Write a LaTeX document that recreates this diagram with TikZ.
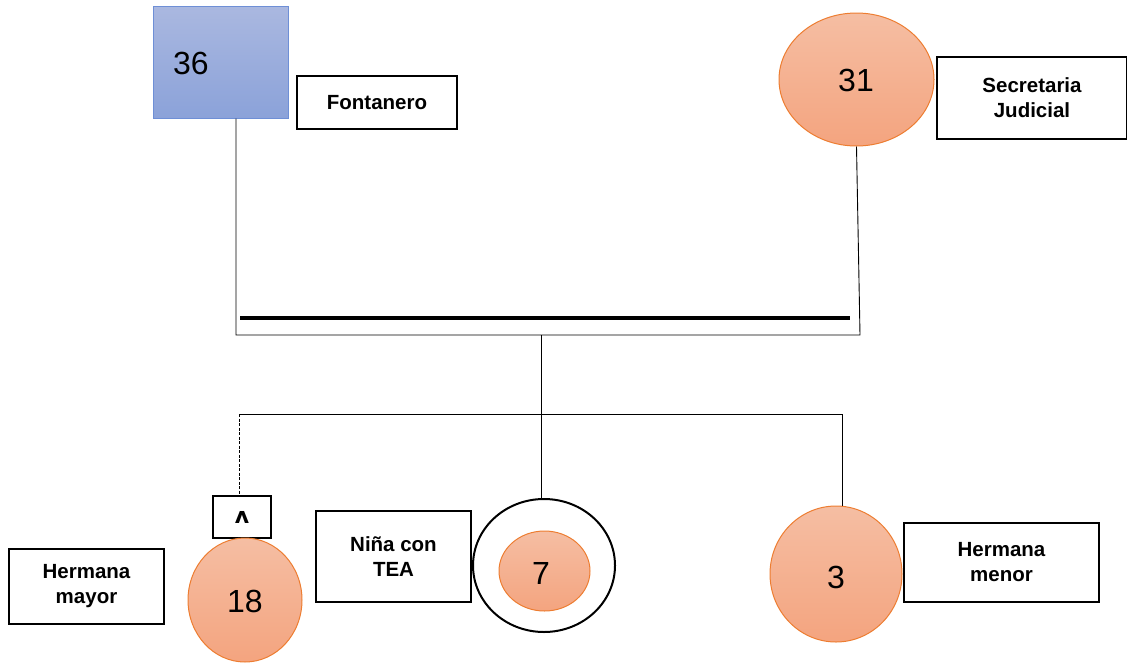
\documentclass[tikz,border=0pt]{standalone}
\usepackage{fontspec}
\setmainfont{Liberation Sans}
\newfontfamily\dvs{DejaVu Sans}
\usetikzlibrary{shapes.geometric}
\definecolor{orgborder}{HTML}{ED7D31}
\definecolor{orgtop}{HTML}{F5BEA3}
\definecolor{orgbot}{HTML}{F4A47F}
\definecolor{bltop}{HTML}{AAB8E0}
\definecolor{blbot}{HTML}{8BA2D9}
\definecolor{blborder}{HTML}{6E8FD6}
\tikzset{
  female/.style={ellipse, draw=orgborder, line width=1pt, top color=orgtop, bottom color=orgbot, inner sep=0pt},
  labelbox/.style={rectangle, draw=black, line width=2pt, fill=white, align=center, inner sep=0pt, font=\fontsize{20.5}{25}\selectfont\bfseries},
  numtext/.style={font=\fontsize{32}{32}\selectfont, inner sep=0pt},
  conn/.style={draw=black, line width=0.9pt},
}
\begin{document}
\begin{tikzpicture}[x=1pt,y=-1pt]
\useasboundingbox (0,0) rectangle (1127,662);
% parents
\node[rectangle, draw=blborder, line width=1pt, top color=bltop, bottom color=blbot, minimum width=135pt, minimum height=112pt, inner sep=0pt] (sq36) at (220.5,62) {};
\node[numtext] (t36) at (191,63) {36};
\node[labelbox, minimum width=160pt, minimum height=53pt] (fon) at (377,102.5) {Fontanero};
\node[female, minimum width=155pt, minimum height=133pt] (e31) at (856.5,79.5) {};
\node[numtext] (t31) at (856,80) {31};
\node[labelbox, minimum width=190pt, minimum height=82pt] (sec) at (1032,98) {Secretaria\\Judicial};
% marriage
\coordinate (bl) at (236,335);
\coordinate (br) at (860,335);
\coordinate (mid) at (541,335);
\coordinate (tl1) at (240,318);
\coordinate (tl2) at (850,318);
\draw[conn] (sq36.south -| bl) -- (bl) -- (br) -- (e31.south);
\draw[line width=4pt] (tl1) -- (tl2);
% sibship
\coordinate (sib) at (541,414);
\coordinate (sibL) at (239,414);
\coordinate (sibR) at (842,414);
\draw[conn] (mid) -- (sib);
\draw[conn] (sibL) -- (sibR);
% children
\node[labelbox, minimum width=58pt, minimum height=42pt, font=\fontsize{22}{22}\selectfont\bfseries\dvs] (cap) at (242,517) {ʌ};
\node[female, minimum width=114pt, minimum height=124pt] (e18) at (245,600) {};
\node[numtext] (t18) at (245,601) {18};
\node[labelbox, minimum width=155pt, minimum height=75pt] (hm) at (86.5,586.5) {Hermana\\mayor};
\node[labelbox, minimum width=155pt, minimum height=91pt] (tea) at (393.5,556.5) {Niña con\\TEA};
\node[ellipse, draw=black, line width=2pt, minimum width=142pt, minimum height=133pt, inner sep=0pt] (big) at (544,565.5) {};
\node[female, minimum width=91pt, minimum height=80pt] (e7) at (544.5,571) {};
\node[numtext] (t7) at (541,573) {7};
\node[female, minimum width=132pt, minimum height=136pt] (e3) at (836,574) {};
\node[numtext] (t3) at (836,577) {3};
\node[labelbox, minimum width=195pt, minimum height=79pt] (men) at (1001.5,562.5) {Hermana\\menor};
\draw[conn, dashed, dash pattern=on 3pt off 1.5pt] (sibL) -- (cap.north -| sibL);
\draw[conn] (sib) -- (sib |- big.north);
\draw[conn] (sibR) -- (sibR |- e3.north);
\end{tikzpicture}
\end{document}
